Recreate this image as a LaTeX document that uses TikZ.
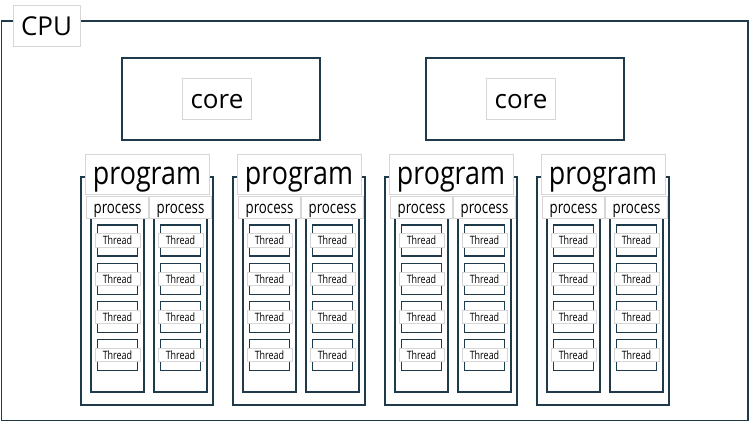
\documentclass[tikz,border=0pt]{standalone}
\usepackage{fontspec}
\setmainfont{Open Sans}
\newfontfamily\progfont{Open Sans}[FakeStretch=0.84]
\newfontfamily\smallfont{Open Sans}[FakeStretch=0.78]
\usetikzlibrary{positioning}
\definecolor{edge}{HTML}{1F3A4B}
\definecolor{tagline}{HTML}{D6D6D6}

\begin{document}
\begin{tikzpicture}[x=1pt, y=-1pt,
  box/.style={draw=edge, line width=1.4pt, inner sep=0pt},
  tbox/.style={draw=edge, line width=1.2pt, inner sep=0pt, minimum width=40pt, minimum height=31pt},
  tag/.style={draw=tagline, fill=white, line width=0.6pt, inner sep=0pt, text depth=0pt},
  bigfont/.style={font=\fontsize{26}{26}\selectfont},
]
\useasboundingbox (0,0) rectangle (750,422);

% CPU
\node[box, minimum width=746.5pt, minimum height=399.5pt] (cpu) at (374.75,220.75) {};
\node[tag, bigfont, text height=21pt, minimum width=67pt, minimum height=41pt] (cpulabel) at (46.5,25.5) {CPU};

% cores
\foreach \i/\x in {1/221,2/525} {
  \node[box, minimum width=198pt, minimum height=82pt] (core\i) at (\x,99) {};
  \node[tag, bigfont, text height=20pt, minimum width=69pt, minimum height=41pt] (corelabel\i) at ([xshift=-4pt,yshift=0.5pt]core\i.center) {core};
}

% programs, processes, threads
\foreach \p in {0,...,3} {
  \pgfmathsetmacro\cx{147+152*\p}
  \node[box, minimum width=132pt, minimum height=228pt] (prog\p) at (\cx,291) {};
  \node[tag, font=\progfont\fontsize{32}{32}\selectfont, text height=22pt, minimum width=124pt, minimum height=40pt] (proglabel\p) at (\cx,174) {program};
  \foreach \q/\dx in {1/-29.5,2/33.5} {
    \node[box, minimum width=53pt, minimum height=175pt] (proc\p\q) at (\cx+\dx,304.5) {};
    \node[tag, font=\smallfont\fontsize{17}{17}\selectfont, text height=12.6pt, minimum width=62pt, minimum height=22pt] (proclabel\p\q) at (\cx+\dx,207) {process};
    \foreach \t/\ty in {1/240.5,2/279,3/317,4/355} {
      \node[tbox] (thr\p\q\t) at (\cx+\dx,\ty) {};
      \node[tag, font=\smallfont\fontsize{11.5}{11.5}\selectfont, text height=9pt, minimum width=45pt, minimum height=13.5pt] (thrlabel\p\q\t) at (thr\p\q\t) {Thread};
    }
  }
}
\end{tikzpicture}
\end{document}
